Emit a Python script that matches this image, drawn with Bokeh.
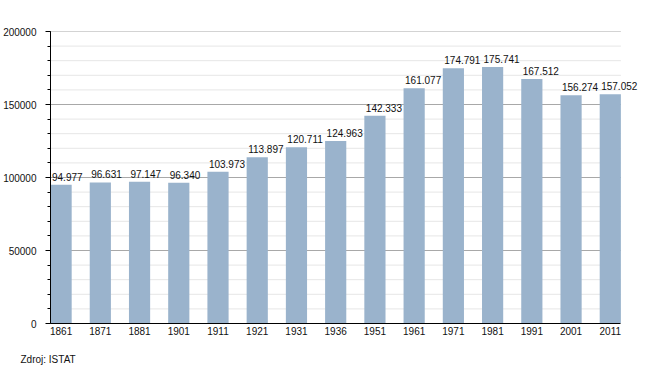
from bokeh.plotting import figure
from bokeh.models import (ColumnDataSource, LabelSet, Range1d, FixedTicker,
                          SingleIntervalTicker, Title)
from bokeh.core.properties import value
from bokeh.embed import file_html
from bokeh.resources import INLINE

years = ["1861", "1871", "1881", "1901", "1911", "1921", "1931", "1936",
         "1951", "1961", "1971", "1981", "1991", "2001", "2011"]
population = [94977, 96631, 97147, 96340, 103973, 113897, 120711, 124963,
              142333, 161077, 174791, 175741, 167512, 156274, 157052]
value_labels = ["94.977", "96.631", "97.147", "96.340", "103.973", "113.897",
                "120.711", "124.963", "142.333", "161.077", "174.791",
                "175.741", "167.512", "156.274", "157.052"]
source_note = "Zdroj: ISTAT"
y_max = 200000
major_step = 50000
minor_step = 10000

BW = 0.54
n = len(years)
idx = list(range(n))
x_lo, x_hi = -BW / 2, n - 1 + BW / 2
src = ColumnDataSource(dict(x=idx, top=population, lx=[i - BW / 2 for i in idx],
                            lab=value_labels))

p = figure(width=645, height=373, output_backend="svg", toolbar_location=None,
           x_range=Range1d(x_lo, x_hi + 0.5),
           y_range=Range1d(0, y_max),
           min_border_left=50, min_border_right=5, min_border_top=31,
           min_border_bottom=0)
p.outline_line_color = None
p.background_fill_color = "white"
p.border_fill_color = "white"
p.xgrid.visible = False
p.ygrid.visible = False

# grid lines limited to the bar area
minor_vals = [v for v in range(0, y_max + 1, minor_step) if v % major_step != 0]
major_vals = [v for v in range(major_step, y_max + 1, major_step)]
p.segment(x0=[x_lo] * len(minor_vals), x1=[x_hi] * len(minor_vals),
          y0=minor_vals, y1=minor_vals, line_color="#e6e6e6", line_width=1)
p.segment(x0=[x_lo] * len(major_vals), x1=[x_hi] * len(major_vals),
          y0=major_vals, y1=major_vals, line_color="#a8a8a8", line_width=1)

p.vbar(x="x", top="top", width=BW, bottom=0, source=src,
       fill_color="#9ab3cc", line_color=None)

p.yaxis.ticker = SingleIntervalTicker(interval=major_step, num_minor_ticks=5)
p.xaxis.ticker = FixedTicker(ticks=idx)
p.xaxis.major_label_overrides = {i: y for i, y in zip(idx, years)}
p.xaxis.bounds = (x_lo, x_hi)
for ax in (p.xaxis, p.yaxis):
    ax.axis_line_color = "black"
    ax.major_label_text_font = "Liberation Sans"
    ax.major_label_text_font_size = "10px"
    ax.major_label_text_color = "#111111"
p.xaxis.major_tick_line_color = None
p.xaxis.minor_tick_line_color = None
p.xaxis.major_tick_out = 0
p.xaxis.major_tick_in = 0
p.xaxis.minor_tick_out = 0
p.xaxis.minor_tick_in = 0
p.xaxis.major_label_standoff = 3
p.xaxis.axis_label = " "
p.xaxis.axis_label_text_font_size = "5px"
p.xaxis.axis_label_standoff = 0
p.yaxis.major_tick_in = 0
p.yaxis.major_tick_out = 5
p.yaxis.minor_tick_in = 0
p.yaxis.minor_tick_out = 3
p.yaxis.major_tick_line_color = "black"
p.yaxis.minor_tick_line_color = "black"
p.yaxis.major_label_standoff = 9
p.yaxis.formatter.use_scientific = False

labels = LabelSet(x="lx", y="top", text="lab", source=src, x_offset=1.5, y_offset=4,
                  text_font=value("Liberation Sans"), text_font_size=value("10px"),
                  text_color=value("#111111"), text_align="left",
                  text_baseline="alphabetic")
p.add_layout(labels)

note = Title(text=source_note, align="left", offset=-30, standoff=14,
             text_font="Liberation Sans", text_font_size="10px",
             text_font_style="normal", text_color="#111111",
             vertical_align="top")
p.add_layout(note, "below")

open("out.html", "w").write(file_html(p, INLINE))
